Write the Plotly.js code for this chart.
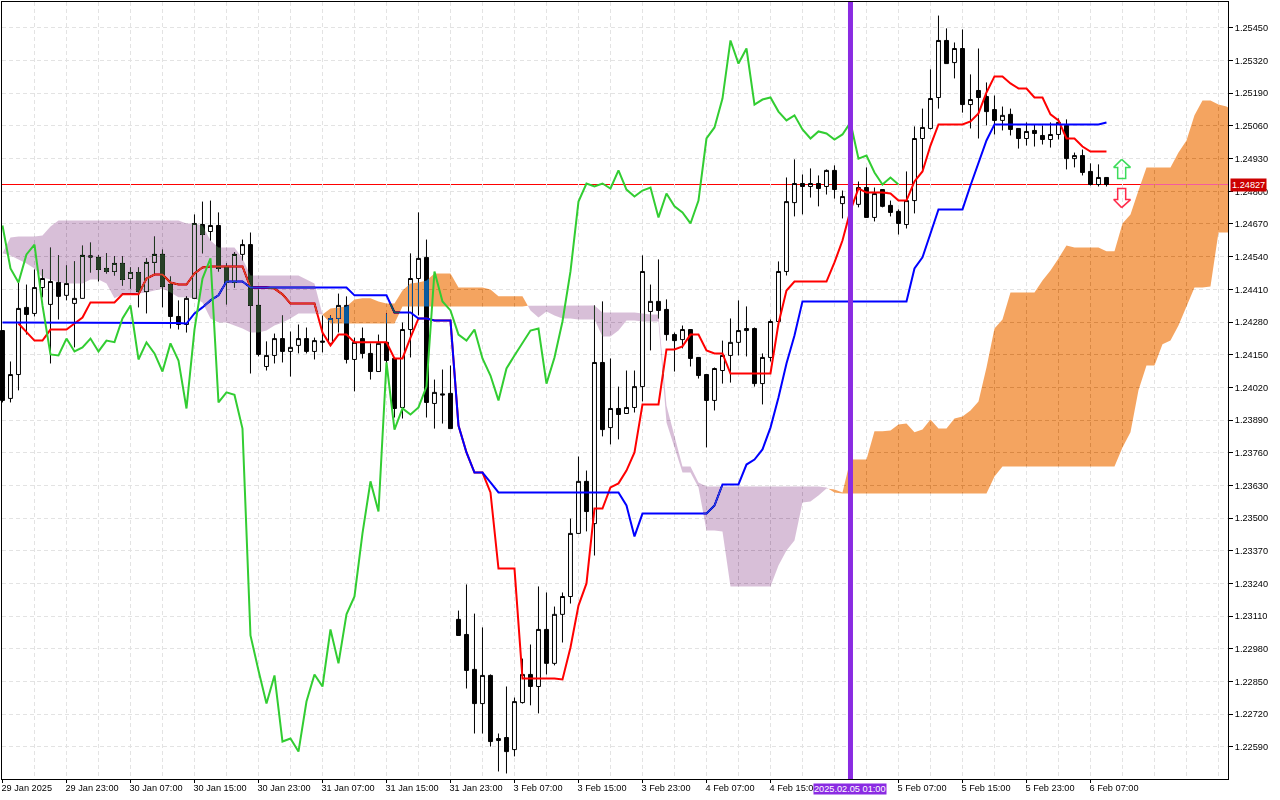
<!DOCTYPE html>
<html>
<head>
<meta charset="utf-8">
<script src="https://cdn.plot.ly/plotly-3.0.1.min.js"></script>
<style>
html,body{margin:0;padding:0;background:#fff}
#chart{width:1280px;height:800px}
.scatterlayer .js-fill{mix-blend-mode:difference}
</style>
</head>
<body>
<div id="chart"></div>
<script>
const opens=[1.24246,1.23976,1.24071,1.24338,1.24314,1.24417,1.24350,1.24437,1.24386,1.24354,
1.24374,1.24543,1.24537,1.24493,1.24481,1.24513,1.24453,1.24477,1.24401,1.24517,
1.24549,1.24429,1.24302,1.24270,1.24374,1.24668,1.24640,1.24664,1.24497,1.24437,
1.24549,1.24588,1.24346,1.24103,1.24147,1.24214,1.24163,1.24187,1.24214,1.24163,
1.24204,1.24195,1.24294,1.24346,1.24131,1.24214,1.24155,1.24083,1.24199,1.24135,
1.23940,1.24250,1.24453,1.24537,1.23956,1.23994,1.23996,1.23097,1.23037,1.22898,
1.22762,1.22874,1.22615,1.22627,1.22579,1.22766,1.22878,1.22830,1.23057,1.22922,
1.23117,1.23188,1.23439,1.23646,1.23478,1.24119,1.23860,1.23936,1.23916,1.23940,
1.24023,1.24322,1.24362,1.24330,1.24230,1.24210,1.24250,1.24139,1.24071,1.23968,
1.24087,1.24147,1.24199,1.24246,1.24254,1.24035,1.24139,1.24282,1.24481,1.24755,
1.24831,1.24819,1.24831,1.24819,1.24883,1.24751,1.24744,1.24748,1.24815,1.24696,
1.24807,1.24744,1.24720,1.24668,1.24763,1.25010,1.25050,1.25173,1.25400,1.25312,
1.25368,1.25145,1.25201,1.25177,1.25125,1.25082,1.25106,1.25050,1.25010,1.25042,
1.25022,1.25006,1.25026,1.25062,1.24930,1.24942,1.24879,1.24827,1.24855];
const highs=[1.24246,1.24123,1.24437,1.24429,1.24489,1.24489,1.24576,1.24545,1.24505,1.24521,
1.24584,1.24596,1.24545,1.24553,1.24541,1.24541,1.24497,1.24497,1.24533,1.24620,
1.24568,1.24461,1.24366,1.24382,1.24708,1.24759,1.24763,1.24716,1.24513,1.24557,
1.24608,1.24636,1.24409,1.24203,1.24234,1.24306,1.24242,1.24270,1.24258,1.24218,
1.24306,1.24306,1.24393,1.24382,1.24218,1.24258,1.24195,1.24230,1.24314,1.24135,
1.24278,1.24553,1.24716,1.24608,1.24051,1.24091,1.24107,1.23132,1.23236,1.23120,
1.23065,1.22878,1.22643,1.22830,1.22786,1.22941,1.22997,1.23228,1.23204,1.23148,
1.23204,1.23498,1.23745,1.23689,1.24346,1.24362,1.24135,1.24023,1.24087,1.24087,
1.24545,1.24429,1.24529,1.24370,1.24238,1.24266,1.24250,1.24139,1.24071,1.24099,
1.24206,1.24294,1.24366,1.24342,1.24258,1.24155,1.24290,1.24521,1.24855,1.24927,
1.24867,1.24891,1.24863,1.24887,1.24903,1.24803,1.24835,1.24839,1.24895,1.24815,
1.24807,1.24763,1.24728,1.24879,1.25058,1.25129,1.25285,1.25499,1.25448,1.25392,
1.25444,1.25265,1.25368,1.25233,1.25181,1.25137,1.25129,1.25050,1.25074,1.25066,
1.25062,1.25074,1.25090,1.25086,1.24954,1.24966,1.24911,1.24907,1.24855];
const lows=[1.23960,1.23960,1.24008,1.24230,1.24302,1.24378,1.24115,1.24290,1.24366,1.24179,
1.24374,1.24477,1.24441,1.24473,1.24465,1.24425,1.24413,1.24338,1.24314,1.24473,
1.24338,1.24254,1.24250,1.24238,1.24374,1.24553,1.24604,1.24481,1.24350,1.24417,
1.24525,1.24075,1.24143,1.24087,1.24115,1.24119,1.24063,1.24155,1.24155,1.24131,
1.24159,1.24187,1.24238,1.24115,1.24004,1.24135,1.24051,1.24083,1.24083,1.23900,
1.23896,1.24139,1.24306,1.23900,1.23856,1.23876,1.23856,1.23033,1.22822,1.22643,
1.22643,1.22591,1.22492,1.22484,1.22552,1.22762,1.22755,1.22723,1.22878,1.22914,
1.23005,1.23160,1.23439,1.23447,1.23351,1.23825,1.23793,1.23813,1.23916,1.23920,
1.23964,1.24167,1.24294,1.24206,1.24083,1.24175,1.24103,1.24055,1.23781,1.23928,
1.24035,1.24039,1.24147,1.24143,1.24023,1.23952,1.24123,1.24282,1.24465,1.24700,
1.24708,1.24775,1.24740,1.24787,1.24771,1.24692,1.24684,1.24736,1.24696,1.24680,
1.24736,1.24700,1.24628,1.24652,1.24712,1.24883,1.25046,1.25129,1.25308,1.25249,
1.25113,1.25050,1.25010,1.25062,1.25026,1.25042,1.25022,1.24970,1.24982,1.24978,
1.24986,1.24974,1.25006,1.24887,1.24895,1.24863,1.24823,1.24819,1.24819];
const closes=[1.23968,1.24071,1.24334,1.24310,1.24417,1.24453,1.24441,1.24382,1.24433,1.24374,
1.24545,1.24539,1.24489,1.24481,1.24513,1.24449,1.24477,1.24401,1.24517,1.24549,
1.24421,1.24302,1.24270,1.24374,1.24672,1.24628,1.24664,1.24493,1.24437,1.24549,
1.24588,1.24346,1.24151,1.24147,1.24214,1.24163,1.24179,1.24214,1.24163,1.24206,
1.24200,1.24294,1.24346,1.24131,1.24199,1.24155,1.24083,1.24195,1.24127,1.23936,
1.24250,1.24453,1.24533,1.23960,1.24000,1.23990,1.23856,1.23033,1.22894,1.22762,
1.22874,1.22611,1.22623,1.22571,1.22770,1.22878,1.22830,1.23057,1.22922,1.23117,
1.23188,1.23439,1.23646,1.23526,1.24119,1.23852,1.23936,1.23912,1.23940,1.24023,
1.24481,1.24362,1.24326,1.24230,1.24206,1.24250,1.24135,1.24067,1.23968,1.24095,
1.24147,1.24199,1.24246,1.24254,1.24035,1.24139,1.24282,1.24481,1.24759,1.24831,
1.24819,1.24831,1.24811,1.24883,1.24807,1.24779,1.24803,1.24815,1.24696,1.24791,
1.24740,1.24716,1.24672,1.24763,1.25010,1.25054,1.25169,1.25400,1.25308,1.25368,
1.25145,1.25165,1.25173,1.25117,1.25082,1.25102,1.25046,1.25010,1.25038,1.25030,
1.25006,1.25026,1.25074,1.24930,1.24942,1.24875,1.24827,1.24855,1.24827];

const tenkan=[null,null,1.24274,1.24238,1.24206,1.24206,1.24250,1.24250,1.24250,1.24274,
1.24298,1.24358,1.24358,1.24358,1.24358,1.24390,1.24390,1.24390,1.24453,1.24469,
1.24469,1.24437,1.24429,1.24429,1.24473,1.24497,1.24501,1.24501,1.24501,1.24501,
1.24501,1.24417,1.24417,1.24417,1.24413,1.24390,1.24354,1.24354,1.24354,1.24354,
1.24238,1.24187,1.24230,1.24230,1.24199,1.24199,1.24199,1.24199,1.24199,1.24135,
1.24135,1.24218,1.24294,1.24294,1.24286,1.24286,1.24286,1.23868,1.23761,1.23681,
1.23681,1.23602,1.23299,1.23299,1.23299,1.22862,1.22862,1.22862,1.22862,1.22862,
1.22858,1.22985,1.23152,1.23240,1.23538,1.23538,1.23622,1.23638,1.23689,1.23761,
1.23952,1.23952,1.23952,1.24171,1.24171,1.24183,1.24230,1.24230,1.24167,1.24155,
1.24155,1.24075,1.24075,1.24075,1.24075,1.24075,1.24075,1.24274,1.24405,1.24441,
1.24441,1.24441,1.24441,1.24441,1.24517,1.24604,1.24724,1.24811,1.24795,1.24795,
1.24795,1.24791,1.24763,1.24763,1.24839,1.24879,1.24982,1.25066,1.25066,1.25066,
1.25066,1.25078,1.25110,1.25193,1.25257,1.25257,1.25229,1.25209,1.25209,1.25173,
1.25173,1.25106,1.25082,1.25010,1.25010,1.24978,1.24958,1.24958,1.24958];
const kijun=[1.24278,1.24278,1.24278,1.24278,1.24278,1.24278,1.24278,1.24278,1.24278,1.24278,
1.24278,1.24278,1.24278,1.24278,1.24278,1.24278,1.24278,1.24278,1.24276,1.24276,
1.24276,1.24276,1.24276,1.24274,1.24314,1.24338,1.24366,1.24386,1.24441,1.24441,
1.24441,1.24417,1.24417,1.24417,1.24417,1.24417,1.24417,1.24417,1.24417,1.24417,
1.24417,1.24417,1.24417,1.24417,1.24386,1.24386,1.24386,1.24386,1.24386,1.24318,
1.24318,1.24318,1.24294,1.24294,1.24286,1.24286,1.24286,1.23868,1.23761,1.23681,
1.23681,1.23642,1.23602,1.23602,1.23602,1.23602,1.23602,1.23602,1.23602,1.23602,
1.23602,1.23602,1.23602,1.23602,1.23602,1.23602,1.23602,1.23602,1.23550,1.23427,
1.23518,1.23518,1.23518,1.23518,1.23518,1.23518,1.23518,1.23518,1.23518,1.23550,
1.23634,1.23634,1.23634,1.23713,1.23733,1.23773,1.23860,1.23980,1.24115,1.24226,
1.24362,1.24362,1.24362,1.24362,1.24362,1.24362,1.24362,1.24362,1.24362,1.24362,
1.24362,1.24362,1.24362,1.24362,1.24493,1.24537,1.24632,1.24728,1.24728,1.24728,
1.24728,1.24823,1.24915,1.25002,1.25066,1.25066,1.25066,1.25066,1.25066,1.25066,
1.25066,1.25066,1.25066,1.25066,1.25066,1.25066,1.25066,1.25066,1.25074];
const chikou=[1.24664,1.24493,1.24437,1.24549,1.24588,1.24346,1.24151,1.24147,1.24214,1.24163,
1.24179,1.24214,1.24163,1.24206,1.24200,1.24294,1.24346,1.24131,1.24199,1.24155,
1.24083,1.24195,1.24127,1.23936,1.24250,1.24453,1.24533,1.23960,1.24000,1.23990,
1.23856,1.23033,1.22894,1.22762,1.22874,1.22611,1.22623,1.22571,1.22770,1.22878,
1.22830,1.23057,1.22922,1.23117,1.23188,1.23439,1.23646,1.23526,1.24119,1.23852,
1.23936,1.23912,1.23940,1.24023,1.24481,1.24362,1.24326,1.24230,1.24206,1.24250,
1.24135,1.24067,1.23968,1.24095,1.24147,1.24199,1.24246,1.24254,1.24035,1.24139,
1.24282,1.24481,1.24759,1.24831,1.24819,1.24831,1.24811,1.24883,1.24807,1.24779,
1.24803,1.24815,1.24696,1.24791,1.24740,1.24716,1.24672,1.24763,1.25010,1.25054,
1.25169,1.25400,1.25308,1.25368,1.25145,1.25165,1.25173,1.25117,1.25082,1.25102,
1.25046,1.25010,1.25038,1.25030,1.25006,1.25026,1.25074,1.24930,1.24942,1.24875,
1.24827,1.24855,1.24827];

const spanA=[1.24553,1.24545,1.24529,1.24513,1.24493,1.24457,1.24449,1.24437,1.24433,1.24433,
1.24433,1.24449,1.24449,1.24433,1.24374,1.24390,1.24390,1.24393,1.24397,1.24405,
1.24413,1.24397,1.24378,1.24378,1.24374,1.24358,1.24294,1.24278,1.24278,1.24266,
1.24254,1.24238,1.24238,1.24246,1.24266,1.24278,1.24294,1.24314,1.24314,1.24314,
1.24310,1.24334,1.24338,1.24342,1.24370,1.24374,1.24374,1.24362,1.24354,1.24354,
1.24405,1.24433,1.24437,1.24445,1.24473,1.24473,1.24473,1.24417,1.24417,1.24417,
1.24417,1.24409,1.24382,1.24382,1.24382,1.24382,1.24326,1.24298,1.24322,1.24306,
1.24294,1.24294,1.24290,1.24290,1.24290,1.24222,1.24222,1.24246,1.24286,1.24286,
1.24282,1.24282,1.24282,1.23880,1.23777,1.23681,1.23681,1.23622,1.23451,1.23451,
1.23447,1.23228,1.23228,1.23228,1.23228,1.23228,1.23228,1.23311,1.23371,1.23411,
1.23562,1.23566,1.23590,1.23618,1.23614,1.23602,1.23733,1.23733,1.23733,1.23845,
1.23845,1.23848,1.23872,1.23876,1.23841,1.23852,1.23892,1.23856,1.23856,1.23896,
1.23904,1.23928,1.23964,1.24099,1.24254,1.24290,1.24397,1.24397,1.24397,1.24397,
1.24445,1.24485,1.24533,1.24584,1.24576,1.24576,1.24576,1.24576,1.24561,1.24561,
1.24672,1.24708,1.24803,1.24895,1.24895,1.24895,1.24895,1.24954,1.25002,1.25102,
1.25161,1.25161,1.25145,1.25137,1.25133];
const spanB=[1.24557,1.24616,1.24620,1.24620,1.24620,1.24624,1.24660,1.24684,1.24684,1.24684,
1.24684,1.24684,1.24684,1.24684,1.24684,1.24684,1.24684,1.24684,1.24684,1.24684,
1.24684,1.24684,1.24684,1.24672,1.24672,1.24664,1.24604,1.24576,1.24576,1.24576,
1.24533,1.24465,1.24465,1.24465,1.24465,1.24465,1.24465,1.24465,1.24449,1.24433,
1.24310,1.24274,1.24274,1.24274,1.24274,1.24274,1.24274,1.24274,1.24274,1.24274,
1.24342,1.24342,1.24342,1.24342,1.24342,1.24342,1.24342,1.24342,1.24342,1.24342,
1.24342,1.24342,1.24342,1.24342,1.24342,1.24342,1.24346,1.24346,1.24346,1.24346,
1.24346,1.24346,1.24346,1.24346,1.24346,1.24318,1.24318,1.24318,1.24318,1.24318,
1.24314,1.24310,1.24310,1.23948,1.23821,1.23705,1.23705,1.23642,1.23626,1.23626,
1.23626,1.23626,1.23626,1.23626,1.23626,1.23626,1.23626,1.23626,1.23626,1.23626,
1.23626,1.23626,1.23626,1.23622,1.23602,1.23598,1.23598,1.23598,1.23598,1.23598,
1.23598,1.23598,1.23598,1.23598,1.23598,1.23598,1.23598,1.23598,1.23598,1.23598,
1.23598,1.23598,1.23598,1.23598,1.23665,1.23705,1.23705,1.23705,1.23705,1.23705,
1.23705,1.23705,1.23705,1.23705,1.23705,1.23705,1.23705,1.23705,1.23705,1.23705,
1.23781,1.23841,1.24008,1.24107,1.24107,1.24191,1.24206,1.24266,1.24338,1.24417,
1.24417,1.24421,1.24636,1.24636,1.24636];

const priceTicks=[1.25450,1.25320,1.25190,1.25060,1.24930,1.24800,1.24670,1.24540,1.24410,1.24280,1.24150,1.24020,1.23890,1.23760,1.23630,1.23500,1.23370,1.23240,1.23110,1.22980,1.22850,1.22720,1.22590];
const timeTickPos=[0,8,16,24,32,40,48,56,64,72,80,88,96,112,120,128,136];
const timeTickText=["29 Jan 2025","29 Jan 23:00","30 Jan 07:00","30 Jan 15:00","30 Jan 23:00","31 Jan 07:00","31 Jan 15:00","31 Jan 23:00","3 Feb 07:00","3 Feb 15:00","3 Feb 23:00","4 Feb 07:00","4 Feb 15:00","5 Feb 07:00","5 Feb 15:00","5 Feb 23:00","6 Feb 07:00"];
const currentPrice=1.24827, markerPos=106, markerText="2025.02.05 01:00";
const xMax=153.19;
const upArrowX=[139.9,141.0,140.4,140.4,139.4,139.4,138.9,139.9];
const upArrowY=[1.24927,1.24895,1.24895,1.24851,1.24851,1.24895,1.24895,1.24927];
const downArrowX=[139.9,141.0,140.4,140.4,139.4,139.4,138.9,139.9];
const downArrowY=[1.24735,1.24767,1.24767,1.24811,1.24811,1.24767,1.24767,1.24735];

const idx=opens.map((_,i)=>i);
function lineIdx(a){return a.map((_,i)=>i);}
function cloud(sign){
  const xs=[],ys=[];let run=[];
  const n=spanA.length;
  const flush=()=>{ if(!run.length)return;
    run.forEach(p=>{xs.push(Math.min(p[0],xMax));ys.push(p[1]);});
    run.slice().reverse().forEach(p=>{xs.push(Math.min(p[0],xMax));ys.push(p[2]);});
    xs.push(Math.min(run[0][0],xMax));ys.push(run[0][1]);
    xs.push(null);ys.push(null);run=[];};
  const cross=(i)=>{const d0=spanA[i]-spanB[i],d1=spanA[i+1]-spanB[i+1],t=d0/(d0-d1),v=spanA[i]+t*(spanA[i+1]-spanA[i]);return [i+t,v,v];};
  for(let i=0;i<n;i++){
    const d=sign*(spanA[i]-spanB[i]);
    if(d>0){
      if(!run.length&&i>0)run.push(cross(i-1));
      run.push([i,spanA[i],spanB[i]]);
      if(i+1<n&&sign*(spanA[i+1]-spanB[i+1])<=0){run.push(cross(i));flush();}
    }
  }
  flush();
  return {x:xs,y:ys};
}
const thistle=cloud(-1),sandy=cloud(1);

const traces=[
 {type:'candlestick',x:idx,open:opens,high:highs,low:lows,close:closes,whiskerwidth:0,hoverinfo:'skip',
  increasing:{line:{color:'#000000',width:1},fillcolor:'#ffffff'},
  decreasing:{line:{color:'#000000',width:1},fillcolor:'#000000'}},
 {type:'scatter',mode:'lines',x:lineIdx(tenkan),y:tenkan,line:{color:'#ff0000',width:2},hoverinfo:'skip'},
 {type:'scatter',mode:'lines',x:lineIdx(kijun),y:kijun,line:{color:'#0000ff',width:2},hoverinfo:'skip'},
 {type:'scatter',mode:'lines',x:thistle.x,y:thistle.y,fill:'toself',fillcolor:'#274027',line:{width:0,color:'rgba(0,0,0,0)'},hoverinfo:'skip'},
 {type:'scatter',mode:'lines',x:sandy.x,y:sandy.y,fill:'toself',fillcolor:'#0B5B9F',line:{width:0,color:'rgba(0,0,0,0)'},hoverinfo:'skip'},
 {type:'scatter',mode:'lines',x:lineIdx(chikou),y:chikou,line:{color:'#32cd32',width:2},hoverinfo:'skip'},
 {type:'scatter',mode:'lines',x:upArrowX,y:upArrowY,line:{color:'#3ddc5a',width:1.5},hoverinfo:'skip'},
 {type:'scatter',mode:'lines',x:downArrowX,y:downArrowY,line:{color:'#ff2a4a',width:1.5},hoverinfo:'skip'}
];
const tickFamily='"Liberation Sans",Arial,sans-serif';
const grid={showgrid:true,gridcolor:'#e3e3e3',gridwidth:1,griddash:'4px,3px'};
const layout={
 width:1280,height:800,margin:{l:2,r:52,t:2,b:21,pad:0},
 paper_bgcolor:'#ffffff',plot_bgcolor:'#ffffff',showlegend:false,
 font:{family:tickFamily,size:9.2,color:'#000000'},
 xaxis:Object.assign({type:'linear',range:[-0.06,xMax],tickmode:'array',tickvals:timeTickPos,ticktext:timeTickText,
  ticks:'outside',ticklen:3,tickcolor:'#000',tickwidth:1,ticklabelposition:'outside right',ticklabelshift:-2,tickangle:0,
  showline:true,linecolor:'#000',linewidth:1,mirror:true,zeroline:false,rangeslider:{visible:false},
  minor:{tickmode:'linear',tick0:0,dtick:4,showgrid:true,gridcolor:'#e3e3e3',griddash:'4px,3px',gridwidth:1,ticks:''},
  tickfont:{family:tickFamily,size:9.2,color:'#000'}},grid),
 yaxis:Object.assign({type:'linear',side:'right',range:[1.22462,1.25553],tickmode:'array',tickvals:priceTicks,ticktext:priceTicks.map(v=>v.toFixed(5)),
  ticks:'outside',ticklen:4,tickcolor:'#000',tickwidth:1,showline:true,linecolor:'#000',linewidth:1,mirror:true,zeroline:false,
  tickfont:{family:tickFamily,size:9.2,color:'#000'}},grid),
 shapes:[
  {type:'line',layer:'below',xref:'paper',x0:0,x1:1,yref:'y',y0:currentPrice,y1:currentPrice,line:{color:'#ff0000',width:1}},
  {type:'line',layer:'above',xref:'x',x0:markerPos,x1:markerPos,yref:'paper',y0:0,y1:1,line:{color:'#8a2be2',width:5}}
 ],
 annotations:[
  {xref:'paper',x:1,xanchor:'left',xshift:2,yref:'y',y:currentPrice,yanchor:'middle',showarrow:false,text:currentPrice.toFixed(5),
   font:{color:'#ffffff',size:9.2,family:tickFamily},bgcolor:'#cc0000',borderpad:1},
  {xref:'x',x:markerPos,xanchor:'center',yref:'paper',y:0,yanchor:'top',yshift:-4,showarrow:false,text:markerText,
   font:{color:'#ffffff',size:9.2,family:tickFamily},bgcolor:'#8a2be2',borderpad:0}
 ]
};
Plotly.newPlot('chart',traces,layout,{displayModeBar:false,staticPlot:true}).then(()=>{
  let el=document.querySelector('.scatterlayer');
  while(el&&el.tagName.toLowerCase()!=='svg'){
    el.removeAttribute('clip-path');el.style.clipPath='none';el.style.isolation='auto';
    el=el.parentNode;
  }
});
</script>
</body>
</html>
